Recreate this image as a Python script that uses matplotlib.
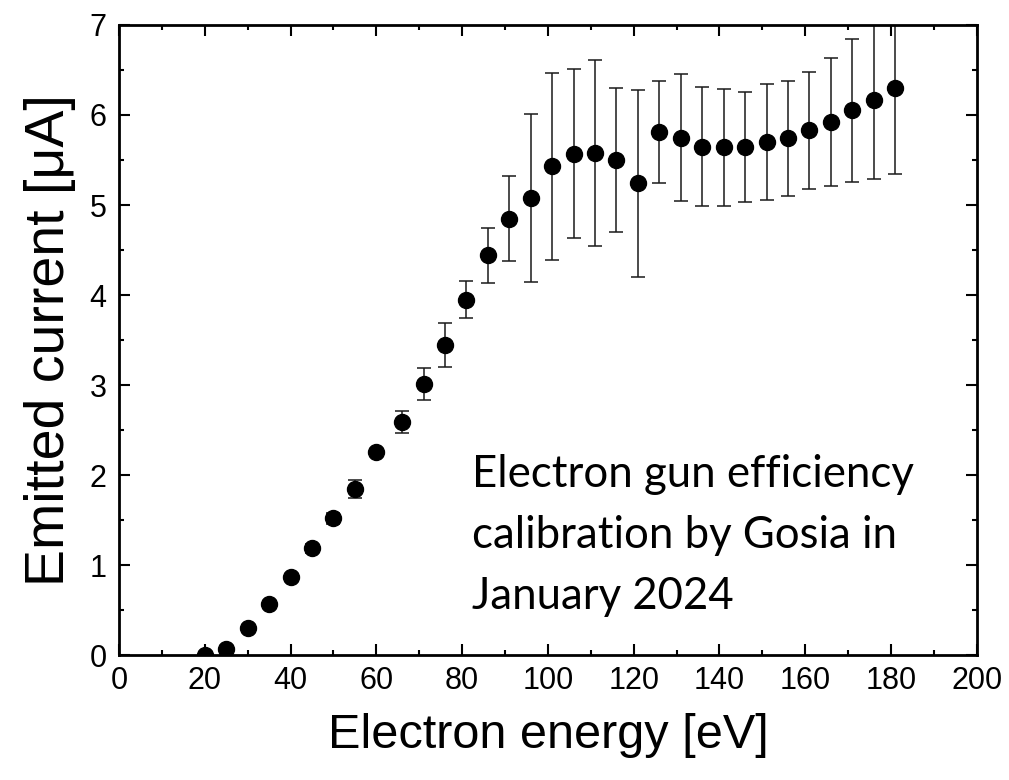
import matplotlib.pyplot as plt
from matplotlib.ticker import MultipleLocator

# Electron gun calibration data
energy = [20, 25, 30, 35, 40, 45, 50, 55, 60, 66, 71, 76, 81, 86, 91, 96,
          101, 106, 111, 116, 121, 126, 131, 136, 141, 146, 151, 156, 161,
          166, 171, 176, 181]
current = [0.00, 0.07, 0.30, 0.57, 0.87, 1.19, 1.52, 1.85, 2.26, 2.59, 3.01,
           3.45, 3.95, 4.44, 4.85, 5.08, 5.43, 5.57, 5.58, 5.50, 5.24, 5.81,
           5.75, 5.65, 5.64, 5.64, 5.70, 5.74, 5.83, 5.92, 6.05, 6.17, 6.30]
current_err = [0.0, 0.0, 0.0, 0.0, 0.0, 0.05, 0.06, 0.10, 0.0, 0.12, 0.18,
               0.245, 0.21, 0.31, 0.47, 0.93, 1.04, 0.94, 1.03, 0.80, 1.04,
               0.57, 0.70, 0.66, 0.65, 0.61, 0.64, 0.64, 0.65, 0.71, 0.79,
               0.88, 0.96]

plt.rcParams['font.family'] = ['Liberation Sans', 'DejaVu Sans']

fig = plt.figure(figsize=(10.09, 7.80), dpi=100)
ax = fig.add_axes([0.118, 0.160, 0.850, 0.808])

ax.errorbar(energy, current, yerr=current_err, fmt='o', color='black',
            ecolor='#1a1a1a', elinewidth=1.1, capsize=5, capthick=1.1,
            markersize=11.5)

ax.set_xlim(0, 200)
ax.set_ylim(0, 7)
ax.xaxis.set_major_locator(MultipleLocator(20))
ax.xaxis.set_minor_locator(MultipleLocator(10))
ax.yaxis.set_major_locator(MultipleLocator(1))
ax.yaxis.set_minor_locator(MultipleLocator(0.5))

ax.tick_params(which='both', direction='in', top=True, right=True, width=1.5)
ax.tick_params(which='major', length=8)
ax.tick_params(which='minor', length=3.6)
ax.tick_params(axis='x', labelsize=22, pad=8)
ax.tick_params(axis='y', labelsize=22, pad=9)
for s in ax.spines.values():
    s.set_linewidth(2)

ax.set_xlabel('Electron energy [eV]', fontsize=35, labelpad=12)
ax.set_ylabel('Emitted current [μA]', fontsize=40, labelpad=10)

ax.text(82.3, 1.33, 'Electron gun efficiency\ncalibration by Gosia in\nJanuary 2024',
        fontsize=31.5, family=['Lato', 'DejaVu Sans'], va='center', ha='left',
        linespacing=1.6)

fig.savefig('out.png', dpi=100)
